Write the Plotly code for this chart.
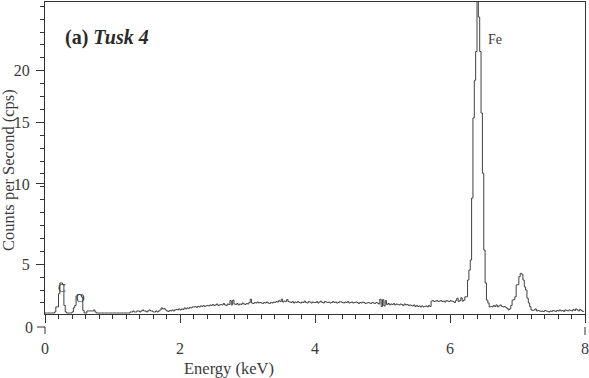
import numpy as np
import plotly.graph_objects as go

# ---- data (counts per second, 0.02 keV channels starting at 0 keV) ----
bin_width_kev = 0.02
counts_cps = [
    2.80, 2.80, 2.80, 2.80, 2.80, 2.80, 2.80, 2.84, 3.04, 3.04,
    3.60, 4.08, 4.08, 4.00, 3.10, 2.84, 2.80, 2.80, 2.80, 2.80,
    2.84, 3.00, 3.10, 3.50, 3.56, 3.56, 3.54, 3.45, 2.90, 2.80,
    2.80, 2.88, 2.88, 2.88, 2.88, 2.88, 2.92, 2.84, 2.80, 2.80,
    2.80, 2.80, 2.80, 2.80, 2.80, 2.80, 2.80, 2.80, 2.80, 2.80,
    2.80, 2.80, 2.80, 2.80, 2.80, 2.80, 2.80, 2.80, 2.80, 2.80,
    2.80, 2.80, 2.80, 2.84, 2.84, 2.88, 2.84, 2.84, 2.88, 2.88,
    2.84, 2.88, 2.92, 2.88, 2.88, 2.84, 2.88, 2.92, 2.88, 2.88,
    2.84, 2.84, 2.88, 2.84, 2.88, 2.92, 3.00, 2.96, 2.98, 2.92,
    2.88, 2.86, 2.90, 2.88, 2.92, 2.88, 2.92, 2.94, 2.92, 2.96,
    2.92, 2.96, 2.94, 3.00, 2.96, 3.00, 2.98, 3.02, 3.00, 3.04,
    3.04, 3.06, 3.02, 3.06, 3.04, 3.08, 3.06, 3.10, 3.06, 3.08,
    3.10, 3.08, 3.12, 3.10, 3.14, 3.10, 3.12, 3.16, 3.10, 3.12,
    3.14, 3.12, 3.18, 3.12, 3.10, 3.16, 3.14, 3.30, 3.12, 3.32,
    3.16, 3.14, 3.18, 3.12, 3.16, 3.14, 3.20, 3.16, 3.14, 3.18,
    3.16, 3.22, 3.36, 3.20, 3.18, 3.22, 3.20, 3.24, 3.20, 3.22,
    3.20, 3.18, 3.22, 3.20, 3.24, 3.20, 3.18, 3.22, 3.20, 3.24,
    3.22, 3.26, 3.24, 3.30, 3.26, 3.36, 3.24, 3.28, 3.26, 3.34,
    3.26, 3.24, 3.22, 3.26, 3.20, 3.24, 3.22, 3.26, 3.22, 3.20,
    3.24, 3.22, 3.28, 3.22, 3.20, 3.26, 3.24, 3.20, 3.24, 3.22,
    3.22, 3.26, 3.20, 3.24, 3.28, 3.22, 3.20, 3.26, 3.24, 3.22,
    3.24, 3.20, 3.22, 3.26, 3.22, 3.24, 3.20, 3.22, 3.26, 3.24,
    3.22, 3.20, 3.24, 3.22, 3.26, 3.20, 3.22, 3.24, 3.20, 3.22,
    3.24, 3.22, 3.18, 3.22, 3.20, 3.24, 3.22, 3.18, 3.20, 3.22,
    3.20, 3.18, 3.22, 3.20, 3.18, 3.22, 3.20, 3.16, 3.36, 3.06,
    3.34, 3.08, 3.30, 3.14, 3.18, 3.12, 3.16, 3.14, 3.18, 3.12,
    3.16, 3.14, 3.12, 3.16, 3.14, 3.10, 3.16, 3.12, 3.14, 3.10,
    3.12, 3.10, 3.08, 3.12, 3.06, 3.10, 3.06, 3.08, 3.04, 3.08,
    3.04, 3.06, 3.08, 3.04, 3.10, 3.06, 3.28, 3.30, 3.26, 3.28,
    3.30, 3.26, 3.28, 3.30, 3.26, 3.28, 3.24, 3.30, 3.28, 3.26,
    3.30, 3.28, 3.26, 3.22, 3.30, 3.40, 3.26, 3.30, 3.42, 3.28,
    3.32, 3.46, 3.46, 4.22, 4.70, 5.22, 9.00, 15.40, 19.00, 22.00,
    29.00, 25.90, 22.00, 15.85, 10.80, 5.76, 4.08, 3.32, 3.20, 3.04,
    3.06, 3.04, 3.10, 3.06, 3.12, 3.04, 3.08, 3.12, 3.06, 3.04,
    3.06, 3.02, 2.98, 2.92, 2.96, 3.10, 3.32, 3.34, 3.46, 3.99,
    4.00, 4.38, 4.54, 4.50, 4.22, 3.90, 3.76, 3.40, 3.20, 3.05,
    2.92, 2.90, 2.92, 2.96, 2.88, 2.90, 2.88, 2.86, 2.88, 2.86,
    2.90, 2.88, 2.86, 2.84, 2.88, 2.86, 2.90, 2.88, 2.86, 2.90,
    2.88, 2.92, 2.88, 2.90, 2.86, 2.92, 2.90, 2.88, 2.92, 2.90,
    2.88, 2.94, 2.90, 2.96, 2.92, 2.88, 2.94, 2.90, 2.86, 2.84,
]
energy_kev = np.arange(len(counts_cps)) * bin_width_kev

x_tick_values = [0, 2, 4, 6, 8]
y_tick_values = [5, 10, 15, 20]
y_tick_labels = ["5", "10", "15", "20"]

peak_labels = ["C", "O", "Fe"]
peak_label_energy = [0.245, 0.52, 6.67]
peak_label_cps = [3.87, 3.43, 23.3]

# ---- figure geometry ----
W, H = 589, 378
L, R, T, B = 45, 4, 2, 64
plot_h = H - T - B
plot_w = W - L - R

# square-root intensity scale
s_top, s_bot = 5.2625, 1.6619
px_per_s = plot_h / (s_top - s_bot)


def py(pixel_y):
    return (H - B - pixel_y) / plot_h


def pxx(pixel_x):
    return (pixel_x - L) / plot_w


font_family = "Liberation Serif, Times New Roman, serif"
txt_col = "#3a3a3a"
line_col = "#333333"

fig = go.Figure()
fig.add_trace(go.Scatter(
    x=energy_kev, y=np.sqrt(counts_cps), mode="lines", line_shape="hv",
    line=dict(color="#404040", width=1), hoverinfo="skip", showlegend=False))

fig.update_layout(
    width=W, height=H, margin=dict(l=L, r=R, t=T, b=B, autoexpand=False),
    paper_bgcolor="white", plot_bgcolor="white", showlegend=False,
    font=dict(family=font_family, size=16, color=txt_col),
)
fig.update_xaxes(
    range=[0, 8], showgrid=False, zeroline=False, automargin=False,
    showline=True, linecolor=line_col, linewidth=1, mirror=True,
    tickmode="array", tickvals=x_tick_values, ticks="outside", ticklen=8,
    tickcolor=line_col, tickwidth=1, ticklabelstandoff=12,
    tickfont=dict(family=font_family, size=16, color=txt_col),
    minor=dict(dtick=0.2, ticks="outside", ticklen=4, tickcolor=line_col, tickwidth=1),
)
fig.update_yaxes(
    range=[s_bot, s_top], showgrid=False, zeroline=False, automargin=False,
    showline=True, linecolor=line_col, linewidth=1, mirror=True,
    tickmode="array", tickvals=list(np.sqrt(y_tick_values)), ticktext=y_tick_labels,
    ticks="outside", ticklen=8, tickcolor=line_col, tickwidth=1, ticklabelstandoff=3,
    tickfont=dict(family=font_family, size=16, color=txt_col),
    minor=dict(tick0=float(np.sqrt(5)), dtick=12.9 / px_per_s, ticks="outside",
               ticklen=4, tickcolor=line_col, tickwidth=1),
)

# peak labels
fig.add_annotation(x=peak_label_energy[0], y=float(np.sqrt(peak_label_cps[0])), text=peak_labels[0],
                   showarrow=False, font=dict(size=12, color=txt_col), xanchor="center", yanchor="middle")
fig.add_annotation(x=peak_label_energy[1], y=float(np.sqrt(peak_label_cps[1])), text=peak_labels[1],
                   showarrow=False, font=dict(size=12, color=txt_col), xanchor="center", yanchor="middle")
fig.add_annotation(x=peak_label_energy[2], y=float(np.sqrt(peak_label_cps[2])), text=peak_labels[2],
                   showarrow=False, font=dict(size=14, color=txt_col), xanchor="center", yanchor="middle")

# panel title
fig.add_annotation(xref="paper", yref="paper", x=pxx(63), y=py(37), text="<b>(a) <i>Tusk 4</i></b>",
                   showarrow=False, xanchor="left", yanchor="middle",
                   font=dict(size=20, color="#2a2a2a"))

# axis titles
fig.add_annotation(xref="paper", yref="paper", x=pxx(229), y=py(368), text="Energy (keV)",
                   showarrow=False, xanchor="center", yanchor="middle", font=dict(size=16.5))
fig.add_annotation(xref="paper", yref="paper", x=pxx(8), y=py(170), text="Counts per Second (cps)",
                   showarrow=False, xanchor="center", yanchor="middle", textangle=-90, font=dict(size=16.5))

# detached zero marker
fig.add_annotation(xref="paper", yref="paper", x=pxx(35), y=py(327), text="0",
                   showarrow=False, xanchor="right", yanchor="middle", font=dict(size=16))
for (x0, y0, x1, y1) in [(37, 327, 45, 327), (45, 327, 45, 334), (585, 327, 585, 335)]:
    fig.add_shape(type="line", xref="paper", yref="paper",
                  x0=pxx(x0), y0=py(y0), x1=pxx(x1), y1=py(y1),
                  line=dict(color=line_col, width=1))

fig.write_html("out.html", config={"displayModeBar": False},
               post_script="document.body.style.margin='0';document.body.style.overflow='hidden';")
